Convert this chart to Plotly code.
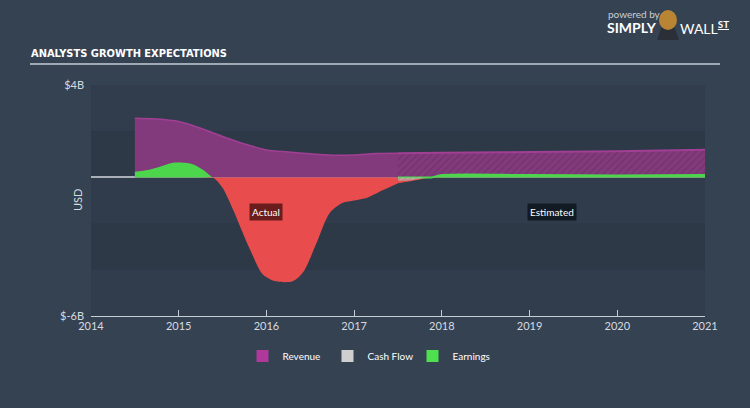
import plotly.graph_objects as go

# ---- data (USD billions, decimal years) ----
rev_act_x = [2014.5, 2014.75, 2015.0, 2015.25, 2015.5, 2015.75, 2016.0, 2016.25, 2016.5, 2016.75, 2017.0, 2017.25, 2017.5]
rev_act   = [2.56, 2.53, 2.42, 2.13, 1.77, 1.45, 1.19, 1.10, 1.02, 0.96, 0.97, 1.04, 1.05]
rev_est_x = [2017.5, 2018.0, 2019.0, 2020.0, 2021.0]
rev_est   = [1.05, 1.07, 1.10, 1.13, 1.20]

earn_act_x = [2014.5, 2014.65, 2014.8, 2014.92, 2015.0, 2015.15, 2015.28, 2015.39, 2015.5, 2015.62, 2015.81,
              2015.96, 2016.11, 2016.3, 2016.42, 2016.57, 2016.72, 2016.87, 2017.0, 2017.15, 2017.33, 2017.5]
earn_act   = [0.25, 0.32, 0.48, 0.62, 0.64, 0.58, 0.32, 0.0, -0.45, -1.4, -3.1,
              -4.2, -4.5, -4.5, -4.1, -2.85, -1.55, -1.1, -1.0, -0.88, -0.55, -0.25]
earn_est_x = [2017.5, 2017.7, 2017.88, 2018.0, 2019.0, 2020.0, 2021.0]
earn_est   = [-0.25, -0.12, 0.0, 0.1, 0.1, 0.08, 0.1]

cf_est_x = [2017.5, 2017.65, 2017.8]
cf_est   = [-0.15, -0.12, 0.0]

year_ticks = [2014, 2015, 2016, 2017, 2018, 2019, 2020, 2021]
y_ticks = [4, -6]
y_tick_text = ["$4B", "$-6B"]

REV_FILL = "#833a7c"
REV_LINE = "#a13f94"
GREEN = "#4cd64c"
RED = "#e84c4c"
GREY = "#c8c8c8"

fig = go.Figure()

def pos(v): return [max(a, 0) for a in v]
def neg(v): return [min(a, 0) for a in v]

# Revenue actual
fig.add_trace(go.Scatter(x=rev_act_x, y=rev_act, mode="lines", line=dict(color=REV_LINE, width=1.5, shape="spline", smoothing=0.8),
                         fill="tozeroy", fillcolor=REV_FILL, name="Revenue", showlegend=False, hoverinfo="skip"))
# Revenue estimate hatched
fig.add_trace(go.Scatter(x=rev_est_x, y=rev_est, mode="lines", line=dict(color=REV_LINE, width=2, shape="spline"),
                         fill="tozeroy", fillcolor=REV_FILL,
                         fillpattern=dict(shape="/", fgcolor="#5e2a5a", bgcolor=REV_FILL, size=5, solidity=0.25),
                         name="Revenue", showlegend=False, hoverinfo="skip"))

# Earnings actual
fig.add_trace(go.Scatter(x=earn_act_x, y=pos(earn_act), mode="lines", line=dict(color=GREEN, width=0, shape="spline", smoothing=0.8),
                         fill="tozeroy", fillcolor=GREEN, showlegend=False, hoverinfo="skip"))
fig.add_trace(go.Scatter(x=earn_act_x, y=neg(earn_act), mode="lines", line=dict(color=RED, width=0, shape="spline", smoothing=0.8),
                         fill="tozeroy", fillcolor=RED, showlegend=False, hoverinfo="skip"))
# Earnings estimate
fig.add_trace(go.Scatter(x=earn_est_x, y=neg(earn_est), mode="lines", line=dict(color=RED, width=0, shape="spline", smoothing=0.8),
                         fill="tozeroy", fillcolor=RED,
                         fillpattern=dict(shape="/", fgcolor="#b03a3a", bgcolor=RED, size=5, solidity=0.25),
                         showlegend=False, hoverinfo="skip"))
fig.add_trace(go.Scatter(x=earn_est_x, y=pos(earn_est), mode="lines", line=dict(color=GREEN, width=2, shape="spline", smoothing=0.8),
                         fill="tozeroy", fillcolor=GREEN, showlegend=False, hoverinfo="skip"))

# Cash flow estimate
fig.add_trace(go.Scatter(x=cf_est_x, y=cf_est, mode="lines", line=dict(color=GREY, width=0, shape="spline"),
                         fill="tozeroy", fillcolor="rgba(200,200,200,0.5)",
                         fillpattern=dict(shape="/", fgcolor="#888888", bgcolor="rgba(200,200,200,0.6)", size=4, solidity=0.3),
                         showlegend=False, hoverinfo="skip"))

# Legend entries
for nm, col, rk in [("Revenue", "#b0389a", 1), ("Cash Flow", "#cfcfcf", 2), ("Earnings", "#4fe04f", 3)]:
    fig.add_trace(go.Scatter(x=[None], y=[None], mode="markers", marker=dict(symbol="square", size=12, color=col),
                             name=nm, legendrank=rk, showlegend=True))

# background bands
band_cols = ["#313d4c", "#2d3947", "#303c4b", "#2d3947", "#313d4c"]
shapes = []
for i, (lo, hi) in enumerate([(2, 4), (0, 2), (-2, 0), (-4, -2), (-6, -4)]):
    shapes.append(dict(type="rect", xref="x", yref="y", x0=2014, x1=2021, y0=lo, y1=hi,
                       fillcolor=band_cols[i], line=dict(width=0), layer="below"))
# title underline
shapes.append(dict(type="line", xref="paper", yref="paper", x0=(30 - 91) / 614, x1=(720 - 91) / 614,
                   y0=(316 - 64) / 231, y1=(316 - 64) / 231, line=dict(color="#c5ced6", width=1.5)))
# logo placeholder (mascot)
shapes.append(dict(type="path", xref="paper", yref="paper",
                   path="M {x0},{y0} L {x1},{y0} L {x2},{y1} L {x3},{y1} Z".format(
                       x0=(657 - 91) / 614, x1=(679 - 91) / 614, x2=(674 - 91) / 614, x3=(662 - 91) / 614,
                       y0=(316 - 40) / 231, y1=(316 - 26) / 231),
                   fillcolor="#2a2f38", line=dict(width=0)))
shapes.append(dict(type="circle", xref="paper", yref="paper",
                   x0=(659 - 91) / 614, x1=(677 - 91) / 614, y0=(316 - 30) / 231, y1=(316 - 10) / 231,
                   fillcolor="#b98534", line=dict(width=0)))

annotations = [
    dict(text="<b>ANALYSTS GROWTH EXPECTATIONS</b>", xref="paper", yref="paper", x=(29 - 91) / 614, y=(316 - 53) / 231,
         xanchor="left", yanchor="middle", showarrow=False,
         font=dict(family="DejaVu Sans Condensed, Liberation Sans Narrow, sans-serif", size=11, color="#ffffff")),
    dict(text="USD", xref="paper", yref="paper", x=(77 - 91) / 614, y=(316 - 200) / 231, textangle=-90,
         xanchor="center", yanchor="middle", showarrow=False,
         font=dict(family="Lato, sans-serif", size=11, color="#d6dbe0")),
    dict(text="Actual", x=2016.0, y=-1.5, xref="x", yref="y", showarrow=False, bgcolor="#6b1c1c",
         font=dict(family="Lato, sans-serif", size=10, color="#ffffff"), borderpad=2),
    dict(text="Estimated", x=2019.25, y=-1.5, xref="x", yref="y", showarrow=False, bgcolor="#121a24",
         font=dict(family="Lato, sans-serif", size=10, color="#ffffff"), borderpad=2),
    dict(text="powered by", xref="paper", yref="paper", x=(606 - 91) / 614, y=(316 - 14) / 231, xanchor="left", yanchor="middle",
         showarrow=False, font=dict(family="Lato, sans-serif", size=10, color="#c8d0d8")),
    dict(text="<b>SIMPLY</b>", xref="paper", yref="paper", x=(605 - 91) / 614, y=(316 - 27) / 231, xanchor="left", yanchor="middle",
         showarrow=False, font=dict(family="Lato, sans-serif", size=14, color="#ffffff")),
    dict(text="WALL<sup><b><u>ST</u></b></sup>", xref="paper", yref="paper", x=(678 - 91) / 614, y=(316 - 27) / 231, xanchor="left", yanchor="middle",
         showarrow=False, font=dict(family="Lato, sans-serif", size=14, color="#ffffff")),
]

fig.update_layout(
    width=750, height=408,
    margin=dict(l=91, r=45, t=85, b=92),
    paper_bgcolor="#354252",
    plot_bgcolor="#2f3b4a",
    shapes=shapes,
    annotations=annotations,
    showlegend=True,
    legend=dict(orientation="h", x=(370 - 91) / 614, y=(316 - 356) / 231, xanchor="center", yanchor="middle",
                font=dict(family="Lato, sans-serif", size=10, color="#ffffff"), bgcolor="rgba(0,0,0,0)",
                itemwidth=30, itemsizing="constant", entrywidth=40, entrywidthmode="pixels"),
    font=dict(family="Lato, sans-serif", color="#d6dbe0"),
)
fig.update_xaxes(range=[2014, 2021], tickvals=year_ticks, ticktext=[str(t) for t in year_ticks],
                 showgrid=False, zeroline=False, showline=True, linecolor="#c5ced6", linewidth=1,
                 ticks="inside", ticklen=6, tickcolor="#c5ced6", tickfont=dict(size=11, color="#d6dbe0"))
fig.update_yaxes(range=[-6, 4], tickvals=y_ticks, ticktext=y_tick_text, showgrid=False,
                 zeroline=True, zerolinecolor="#a9b0b8", zerolinewidth=2,
                 tickfont=dict(size=11, color="#d6dbe0"), ticks="", ticklabelstandoff=6)

fig.write_html("out.html")
